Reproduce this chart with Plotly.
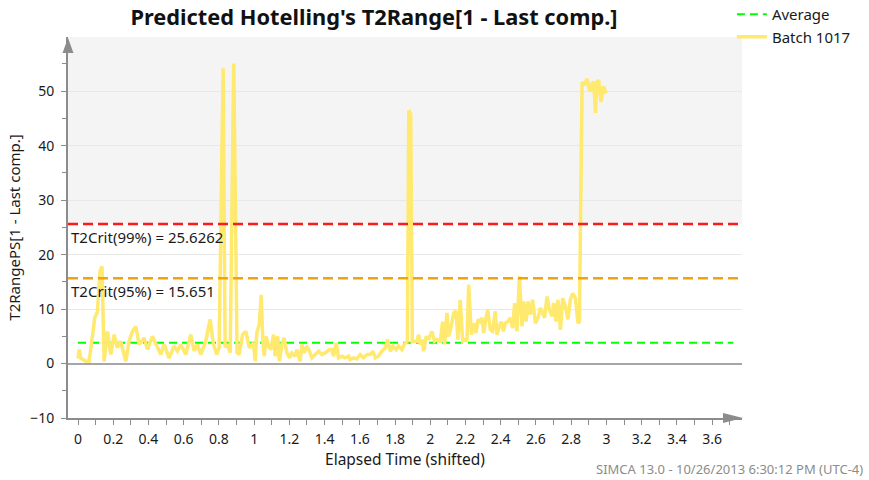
import plotly.graph_objects as go

# ---------------- data ----------------
elapsed_time = [
    0.000, 0.006, 0.015, 0.044, 0.063, 0.081, 0.095, 0.110, 0.125, 0.136,
    0.148, 0.167, 0.186, 0.205, 0.223, 0.242, 0.271, 0.290, 0.309, 0.328,
    0.347, 0.375, 0.394, 0.422, 0.451, 0.470, 0.489, 0.517, 0.545, 0.564,
    0.583, 0.612, 0.640, 0.659, 0.678, 0.697, 0.725, 0.750, 0.769, 0.788,
    0.801, 0.824, 0.835, 0.848, 0.864, 0.884, 0.903, 0.915, 0.934, 0.953,
    0.972, 0.996, 1.006, 1.015, 1.030, 1.040, 1.049, 1.057, 1.068, 1.081,
    1.095, 1.110, 1.119, 1.133, 1.144, 1.157, 1.170, 1.186, 1.201, 1.214,
    1.233, 1.242, 1.261, 1.271, 1.284, 1.299, 1.314, 1.328, 1.347, 1.366,
    1.385, 1.403, 1.428, 1.441, 1.451, 1.466, 1.479, 1.498, 1.517, 1.536,
    1.545, 1.564, 1.583, 1.602, 1.621, 1.640, 1.659, 1.674, 1.688, 1.706,
    1.725, 1.744, 1.757, 1.773, 1.788, 1.807, 1.820, 1.839, 1.852, 1.870,
    1.878, 1.889, 1.898, 1.924, 1.934, 1.943, 1.953, 1.962, 1.977, 1.990,
    2.009, 2.024, 2.038, 2.057, 2.070, 2.081, 2.095, 2.104, 2.119, 2.133,
    2.146, 2.157, 2.170, 2.184, 2.199, 2.208, 2.218, 2.233, 2.246, 2.260,
    2.271, 2.284, 2.294, 2.303, 2.313, 2.326, 2.341, 2.354, 2.369, 2.379,
    2.392, 2.403, 2.416, 2.426, 2.441, 2.455, 2.468, 2.479, 2.492, 2.506,
    2.521, 2.530, 2.544, 2.555, 2.568, 2.581, 2.597, 2.612, 2.625, 2.638,
    2.649, 2.663, 2.676, 2.691, 2.701, 2.714, 2.725, 2.739, 2.752, 2.767,
    2.782, 2.795, 2.809, 2.824, 2.839, 2.847, 2.862, 2.875, 2.890, 2.899,
    2.909, 2.919, 2.928, 2.938, 2.947, 2.956, 2.962, 2.970, 2.979, 2.985,
    2.994, 3.004,
]
batch_1017 = [
    0.9, 2.6, 1.0, 0.4, 0.4, 5.3, 8.4, 9.5, 17.0, 17.8,
    0.4, 5.9, 1.65, 5.3, 2.9, 4.1, 0.4, 4.1, 5.9, 6.8,
    3.5, 4.7, 2.6, 5.0, 2.9, 1.65, 3.5, 1.0, 3.2, 2.3,
    3.5, 1.65, 5.3, 2.3, 3.5, 1.65, 4.1, 8.1, 3.5, 1.65,
    2.9, 54.2, 3.0, 3.5, 2.0, 55.1, 2.0, 1.65, 5.3, 5.9,
    2.9, 3.8, 0.43, 5.6, 7.4, 12.6, 4.4, 1.35, 5.0, 3.2,
    2.56, 5.3, 1.35, 5.0, 0.43, 3.5, 4.7, 1.95, 1.04, 1.95,
    1.35, 2.56, 0.43, 3.5, 1.95, 3.2, 2.26, 1.04, 1.65, 2.26,
    1.65, 1.95, 2.56, 2.56, 1.35, 3.8, 1.04, 1.35, 1.04, 1.35,
    0.73, 1.04, 0.85, 1.65, 1.04, 1.65, 1.65, 2.26, 1.04, 1.35,
    2.26, 2.87, 4.4, 2.26, 3.2, 2.56, 3.2, 2.56, 3.5, 4.1,
    46.5, 45.8, 4.0, 4.1, 5.3, 3.5, 4.4, 2.26, 5.0, 4.4,
    5.9, 4.1, 4.4, 4.1, 7.7, 3.5, 9.3, 5.0, 6.8, 9.3,
    9.6, 4.4, 11.7, 4.1, 4.4, 4.1, 14.5, 5.3, 7.4, 5.6,
    8.1, 7.7, 8.4, 5.6, 7.7, 9.9, 6.2, 5.9, 9.6, 5.3,
    6.8, 7.7, 5.9, 7.4, 7.7, 8.4, 6.5, 11.1, 5.9, 16.0,
    6.8, 11.4, 7.7, 11.4, 9.0, 11.7, 7.4, 8.4, 10.2, 9.3,
    8.4, 12.3, 9.9, 8.7, 11.1, 7.7, 11.7, 6.2, 12.0, 10.5,
    8.1, 11.7, 12.9, 12.0, 7.4, 7.7, 51.7, 51.1, 52.3, 50.8,
    49.9, 51.4, 51.7, 46.0, 51.7, 52.0, 50.5, 48.0, 50.5, 50.8,
    49.9, 50.1,
]
average_time = [0.0, 3.72]
average_value = [3.8, 3.8]
t2crit_99 = 25.6262
t2crit_95 = 15.651
y_tick_values = [-10, 0, 10, 20, 30, 40, 50]

FONT = "Noto Sans"
AXIS_GRAY = "#8c8c8c"
TEXT = "#1a1a1a"

fig = go.Figure()
fig.add_trace(go.Scatter(
    x=average_time, y=average_value, mode="lines", name="Average",
    line=dict(color="#00ff00", width=2, dash="8px,5px"),
    legendgroup="a",
))
fig.add_trace(go.Scatter(
    x=elapsed_time, y=batch_1017, mode="lines", name="Batch 1017",
    line=dict(color="#ffe96e", width=3.5),
    legendgroup="b",
))

shapes = [
    dict(type="rect", xref="paper", x0=0, x1=1, yref="y", y0=t2crit_99, y1=60,
         fillcolor="#f4f4f4", line=dict(width=0), layer="below"),
    dict(type="line", xref="paper", x0=0, x1=1, yref="y", y0=t2crit_99, y1=t2crit_99,
         line=dict(color="#ff1a1a", width=2.5, dash="10px,5px")),
    dict(type="line", xref="paper", x0=0, x1=1, yref="y", y0=t2crit_95, y1=t2crit_95,
         line=dict(color="#f2a20c", width=2.5, dash="10px,5px")),
    dict(type="path", xref="paper", yref="paper",
         path="M 0,0.9974 L -0.00816,0.958 L 0.00816,0.958 Z",
         fillcolor=AXIS_GRAY, line=dict(width=0)),
    dict(type="path", xref="paper", yref="paper",
         path="M 1.0015,0 L 0.9718,0.0131 L 0.9718,-0.0131 Z",
         fillcolor=AXIS_GRAY, line=dict(width=0)),
]

annotations = [
    dict(text=f"T2Crit(99%) = {t2crit_99}", xref="paper", x=0.002, xanchor="left",
         yref="y", y=t2crit_99, yanchor="top", yshift=-1, showarrow=False,
         font=dict(family=FONT, size=15, color=TEXT)),
    dict(text=f"T2Crit(95%) = {t2crit_95}", xref="paper", x=0.002, xanchor="left",
         yref="y", y=t2crit_95, yanchor="top", yshift=-1, showarrow=False,
         font=dict(family=FONT, size=15, color=TEXT)),
    dict(text="SIMCA 13.0 - 10/26/2013 6:30:12 PM (UTC-4)", xref="paper", x=1.1825,
         xanchor="right", yref="paper", y=-0.134, yanchor="middle", showarrow=False,
         font=dict(family=FONT, size=13, color="#8c8c8c")),
]

fig.update_layout(
    width=869, height=480,
    margin=dict(l=68, r=127, t=37, b=62, autoexpand=False),
    paper_bgcolor="white", plot_bgcolor="white",
    font=dict(family=FONT, size=15, color=TEXT),
    title=dict(text="<b>Predicted Hotelling's T2Range[1 - Last comp.]</b>",
               xref="paper", x=0.454, xanchor="center",
               yref="container", y=1 - 17 / 480, yanchor="middle",
               font=dict(family=FONT, size=21.8, color="#111111")),
    showlegend=True,
    legend=dict(x=0.985, xanchor="left", y=1.1023, yanchor="top",
                bgcolor="rgba(0,0,0,0)", font=dict(family=FONT, size=15, color=TEXT),
                traceorder="grouped", tracegroupgap=0, itemwidth=30),
    shapes=shapes,
    annotations=annotations,
)

fig.update_xaxes(
    range=[-0.057, 3.77], tick0=0, dtick=0.2,
    showgrid=False, zeroline=False,
    showline=True, linecolor=AXIS_GRAY, linewidth=2,
    ticks="outside", ticklen=5, tickcolor=AXIS_GRAY, tickwidth=1,
    minor=dict(dtick=0.1, ticks="outside", ticklen=5, tickcolor=AXIS_GRAY, showgrid=False),
    tickfont=dict(family=FONT, size=14, color=TEXT), ticklabelstandoff=2,
    title=dict(text="Elapsed Time (shifted)", standoff=6,
               font=dict(family=FONT, size=15.5, color=TEXT)),
)
fig.update_yaxes(
    range=[-10, 59.95], tickvals=y_tick_values,
    showgrid=True, gridcolor="#e8e8e8", gridwidth=1,
    zeroline=True, zerolinecolor="#a6a6a6", zerolinewidth=2,
    showline=True, linecolor=AXIS_GRAY, linewidth=2,
    ticks="outside", ticklen=5, tickcolor=AXIS_GRAY, tickwidth=1,
    minor=dict(dtick=5, ticks="outside", ticklen=4, tickcolor=AXIS_GRAY, showgrid=False),
    tickfont=dict(family=FONT, size=14, color=TEXT), ticklabelstandoff=4,
    title=dict(text="T2RangePS[1 - Last comp.]", standoff=6,
               font=dict(family=FONT, size=15, color=TEXT)),
)

fig.write_html("out.html", config={"displayModeBar": False},
               post_script="document.body.style.margin='0px';")
